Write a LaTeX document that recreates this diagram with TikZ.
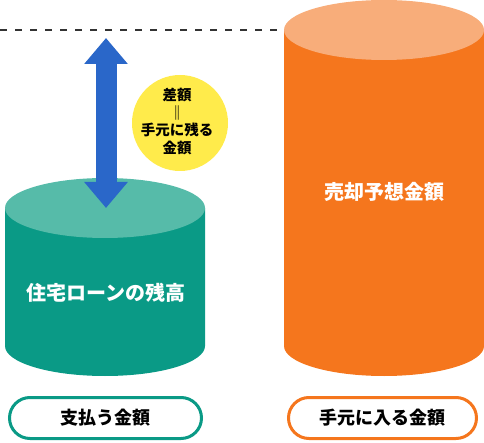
\documentclass[tikz,border=0pt]{standalone}
\usepackage{fontspec}
\setmainfont{Noto Sans CJK JP}
\usepackage{xcolor}
\usepackage{tikz}
\usetikzlibrary{arrows.meta, positioning}

\definecolor{loanBody}{HTML}{0A9A86}
\definecolor{loanTopC}{HTML}{56BBA9}
\definecolor{saleBody}{HTML}{F5761D}
\definecolor{saleTopC}{HTML}{F8AD7A}
\definecolor{gapBlue}{HTML}{2A67C9}
\definecolor{noteYellow}{HTML}{FFEB4B}
\definecolor{lineGray}{HTML}{333333}

\begin{document}
\begin{tikzpicture}[
  x=1pt, y=1pt,
  font=\bfseries,
  cyltext/.style={
    text=white,
    font=\fontsize{20}{24}\selectfont\bfseries
  },
  pill/.style={
    draw,
    fill=white,
    line width=3pt,
    rounded corners=20.5pt,
    minimum height=41pt,
    text=black,
    font=\fontsize{18}{22}\selectfont\bfseries
  },
  gaparrow/.style={
    draw=gapBlue,
    line width=21pt,
    {Triangle[width=42pt, length=26pt]}-{Triangle[width=42pt, length=26pt]}
  }
]
\useasboundingbox (0,0) rectangle (484,442);

% Loan cylinder (left)
\fill[loanBody] (5,234) -- (5,96) arc[start angle=180, end angle=360, x radius=100, y radius=30] -- (205,234) -- cycle;
\fill[loanTopC] (105,234) ellipse [x radius=100, y radius=30];
\coordinate (loanTop) at (106,234);
\node[cyltext] (loan) at (106,149) {住宅ローンの残高};

% Sale cylinder (right)
\fill[saleBody] (284,412) -- (284,96) arc[start angle=180, end angle=360, x radius=100, y radius=30] -- (484,412) -- cycle;
\fill[saleTopC] (384,412) ellipse [x radius=100, y radius=30];
\coordinate (saleTopLeft) at (284,412);
\node[cyltext] (sale) at (384,250) {売却予想金額};

% Dashed level line
\coordinate (lineStart) at (0,412);
\draw[lineGray, line width=1.5pt, dash pattern=on 7pt off 8pt] (lineStart) -- (saleTopLeft);

% Gap arrow
\coordinate (gapTop) at (106,404);
\draw[gaparrow] (loanTop) -- (gapTop);

% Yellow note
\node[circle, fill=noteYellow, minimum size=96pt, inner sep=0pt] (note) at (180,319) {};
\node[align=center, font=\fontsize{14.5}{17.5}\selectfont\bfseries] (noteText) at (177,320.5)
{差額\\‖\\手元に残る\\金額};

% Bottom labels
\node[pill, draw=loanBody, minimum width=192pt] (pay) at (105.5,24) {支払う金額};
\node[pill, draw=saleBody, minimum width=188pt] (get) at (382.5,24) {手元に入る金額};

\end{tikzpicture}
\end{document}
